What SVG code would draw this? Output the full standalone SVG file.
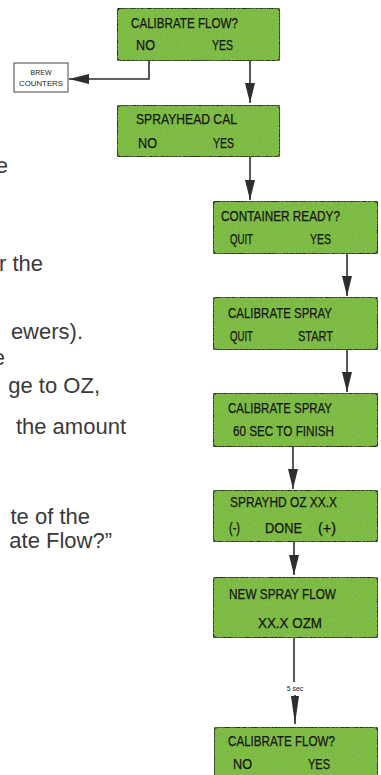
<svg xmlns="http://www.w3.org/2000/svg" width="381" height="775" viewBox="0 0 381 775">
<defs>
<marker id="ah" markerUnits="userSpaceOnUse" markerWidth="22" markerHeight="12" refX="20" refY="5" orient="auto"><path d="M0,0 L20,5 L0,10 z" fill="#2e2e2e"/></marker>
<marker id="ah2" markerUnits="userSpaceOnUse" markerWidth="30" markerHeight="10" refX="28" refY="4" orient="auto"><path d="M0,0 L28,4 L0,8 z" fill="#2e2e2e"/></marker>
<filter id="grain" x="0" y="0" width="100%" height="100%">
<feTurbulence type="fractalNoise" baseFrequency="0.8" numOctaves="2" seed="3" result="n"/>
<feColorMatrix in="n" type="matrix" values="0 0 0 0 0.2  0 0 0 0 0.35  0 0 0 0 0.1  0 0 0 -1.6 1.0" result="spk"/>
<feComposite in="spk" in2="SourceGraphic" operator="in" result="s2"/>
<feMerge><feMergeNode in="SourceGraphic"/><feMergeNode in="s2"/></feMerge>
</filter>
</defs>
<style>
.box{fill:#7fc241;stroke:#262626;stroke-width:2;filter:url(#grain)}
.t{font-family:"Liberation Sans",Arial,sans-serif;font-size:14px;fill:#151515;stroke:#151515;stroke-width:0.25}
.body{font-family:"Liberation Sans",Arial,sans-serif;font-size:22px;fill:#3a3a3a;text-anchor:end}
.c{fill:none;stroke:#2e2e2e;stroke-width:1.6}
.small{font-family:"Liberation Sans",Arial,sans-serif;font-size:7px;fill:#222;text-anchor:middle}
</style>
<rect width="381" height="775" fill="#ffffff"/>
<g id="bodytext">
<text class="body" x="8" y="173">e</text>
<text class="body" x="43" y="271">r the</text>
<text class="body" x="83" y="339">ewers).</text>
<text class="body" x="5" y="365">e</text>
<text class="body" x="100" y="393">ge to OZ,</text>
<text class="body" x="126" y="434">the amount</text>
<text class="body" x="90" y="524">te of the</text>
<text class="body" x="112" y="548">ate Flow?”</text>
</g>
<g id="connectors">
<path class="c" d="M149,61 V79 H69" marker-end="url(#ah)"/>
<path class="c" d="M250,61 V103" marker-end="url(#ah)"/>
<path class="c" d="M250,157 V200" marker-end="url(#ah)"/>
<path class="c" d="M347,254 V296" marker-end="url(#ah)"/>
<path class="c" d="M347,350 V392" marker-end="url(#ah)"/>
<path class="c" d="M293,447 V489" marker-end="url(#ah)"/>
<path class="c" d="M294,542 V575" marker-end="url(#ah)"/>
<path class="c" d="M294,638 V682"/>
<text class="small" x="295" y="691" font-size="6">5 sec</text>
<path class="c" d="M295,695 V724" marker-end="url(#ah2)"/>
</g>
<g id="brew-counters">
<rect x="14" y="63" width="54" height="29" fill="#fff" stroke="#444" stroke-width="1"/>
<text class="small" x="41" y="75">BREW</text>
<text class="small" x="41" y="86" textLength="44" lengthAdjust="spacingAndGlyphs">COUNTERS</text>
</g>
<g id="calibrate-flow-1">
<rect class="box" x="117" y="8" width="163" height="53" rx="4"/>
<text class="t" x="131" y="28" textLength="107" lengthAdjust="spacingAndGlyphs">CALIBRATE FLOW?</text>
<text class="t" x="136" y="50" textLength="19" lengthAdjust="spacingAndGlyphs">NO</text>
<text class="t" x="212" y="50" textLength="21" lengthAdjust="spacingAndGlyphs">YES</text>
</g>
<g id="sprayhead-cal">
<rect class="box" x="117" y="105" width="163" height="52" rx="4"/>
<text class="t" x="136" y="124" textLength="101" lengthAdjust="spacingAndGlyphs">SPRAYHEAD  CAL</text>
<text class="t" x="138" y="148" textLength="19" lengthAdjust="spacingAndGlyphs">NO</text>
<text class="t" x="213" y="148" textLength="21" lengthAdjust="spacingAndGlyphs">YES</text>
</g>
<g id="container-ready">
<rect class="box" x="213" y="201" width="165" height="53" rx="4"/>
<text class="t" x="221" y="221" textLength="119" lengthAdjust="spacingAndGlyphs">CONTAINER READY?</text>
<text class="t" x="230" y="244" textLength="23" lengthAdjust="spacingAndGlyphs">QUIT</text>
<text class="t" x="310" y="244" textLength="21" lengthAdjust="spacingAndGlyphs">YES</text>
</g>
<g id="calibrate-spray-start">
<rect class="box" x="213" y="297" width="165" height="53" rx="4"/>
<text class="t" x="228" y="318" textLength="104" lengthAdjust="spacingAndGlyphs">CALIBRATE SPRAY</text>
<text class="t" x="230" y="341" textLength="23" lengthAdjust="spacingAndGlyphs">QUIT</text>
<text class="t" x="298" y="341" textLength="35" lengthAdjust="spacingAndGlyphs">START</text>
</g>
<g id="calibrate-spray-60">
<rect class="box" x="213" y="393" width="165" height="54" rx="4"/>
<text class="t" x="228" y="413" textLength="104" lengthAdjust="spacingAndGlyphs">CALIBRATE SPRAY</text>
<text class="t" x="233" y="436" textLength="101" lengthAdjust="spacingAndGlyphs">60 SEC TO FINISH</text>
</g>
<g id="sprayhd-oz">
<rect class="box" x="213" y="490" width="165" height="52" rx="4"/>
<text class="t" x="230" y="507" textLength="107" lengthAdjust="spacingAndGlyphs">SPRAYHD OZ XX.X</text>
<text class="t" x="229" y="533" textLength="11" lengthAdjust="spacingAndGlyphs">(-)</text>
<text class="t" x="265" y="533" textLength="37" lengthAdjust="spacingAndGlyphs">DONE</text>
<text class="t" x="318" y="533" textLength="18" lengthAdjust="spacingAndGlyphs">(+)</text>
</g>
<g id="new-spray-flow">
<rect class="box" x="213" y="577" width="165" height="61" rx="4"/>
<text class="t" x="229" y="599" textLength="107" lengthAdjust="spacingAndGlyphs">NEW SPRAY FLOW</text>
<text class="t" x="258" y="628" textLength="64" lengthAdjust="spacingAndGlyphs">XX.X  OZM</text>
</g>
<g id="calibrate-flow-2">
<rect class="box" x="214" y="727" width="164" height="60" rx="4"/>
<text class="t" x="228" y="746" textLength="107" lengthAdjust="spacingAndGlyphs">CALIBRATE FLOW?</text>
<text class="t" x="233" y="769" textLength="19" lengthAdjust="spacingAndGlyphs">NO</text>
<text class="t" x="308" y="769" textLength="22" lengthAdjust="spacingAndGlyphs">YES</text>
</g>
</svg>
